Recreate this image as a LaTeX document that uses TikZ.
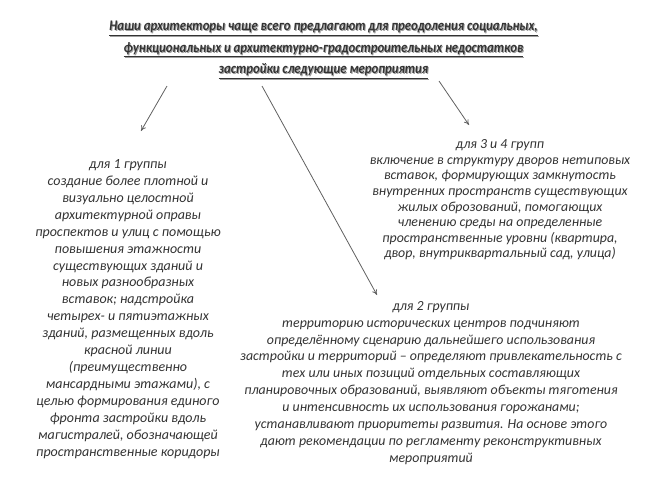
\documentclass[tikz,border=0pt]{standalone}
\usepackage{fontspec}
\setmainfont{Carlito}
\usetikzlibrary{arrows.meta}
\definecolor{txt}{HTML}{333333}
\definecolor{shd}{HTML}{A0A0A0}
\definecolor{arr}{HTML}{606060}
\begin{document}
\begin{tikzpicture}[x=0.75pt,y=-0.75pt,
  body/.style={align=center,inner sep=0pt,text=txt,font=\fontsize{10.5}{12.7}\selectfont\itshape},
  ttl/.style={align=center,inner sep=0pt,xscale=0.87,transform shape,font=\fontsize{11}{16}\selectfont\bfseries\itshape},
  conn/.style={draw=arr,line width=0.6pt,-{To[length=4pt,width=4pt]}}]
\useasboundingbox (0,0) rectangle (645,483);
\node[ttl,text=shd] at (324.5,51) {\underline{Наши архитекторы чаще всего предлагают для преодоления социальных,}\\
\underline{функциональных и архитектурно-градостроительных недостатков}\\
\underline{застройки следующие мероприятия}};
\node[ttl,text=txt] (title) at (323.5,50) {\underline{Наши архитекторы чаще всего предлагают для преодоления социальных,}\\
\underline{функциональных и архитектурно-градостроительных недостатков}\\
\underline{застройки следующие мероприятия}};
\node[body] (g1) at (128,309) {для 1 группы\\
создание более плотной и\\
визуально целостной\\
архитектурной оправы\\
проспектов и улиц с помощью\\
повышения этажности\\
существующих зданий и\\
новых разнообразных\\
вставок; надстройка\\
четырех- и пятиэтажных\\
зданий, размещенных вдоль\\
красной линии\\
(преимущественно\\
мансардными этажами), с\\
целью формирования единого\\
фронта застройки вдоль\\
магистралей, обозначающей\\
пространственные коридоры};
\node[body,font=\fontsize{10.4}{11.7}\selectfont\itshape] (g34) at (500,200) {для 3 и 4 групп\\
включение в структуру дворов нетиповых\\
вставок, формирующих замкнутость\\
внутренних пространств существующих\\
жилых оброзований, помогающих\\
членению среды на определенные\\
пространственные уровни (квартира,\\
двор, внутриквартальный сад, улица)};
\node[body,font=\fontsize{10.4}{12.7}\selectfont\itshape] (g2) at (431,383) {для 2 группы\\
территорию исторических центров подчиняют\\
определённому сценарию дальнейшего использования\\
застройки и территорий -- определяют привлекательность с\\
тех или иных позиций отдельных составляющих\\
планировочных образований, выявляют объекты тяготения\\
и интенсивность их использования горожанами;\\
устанавливают приоритеты развития. На основе этого\\
дают рекомендации по регламенту реконструктивных\\
мероприятий};
\coordinate (s1) at (167,86);
\coordinate (e1) at (141,131);
\coordinate (s2) at (262,86);
\coordinate (e2) at (377,295);
\coordinate (s3) at (439,81);
\coordinate (e3) at (469,125);
\draw[conn] (s1) -- (e1);
\draw[conn] (s2) -- (e2);
\draw[conn] (s3) -- (e3);
\end{tikzpicture}
\end{document}
